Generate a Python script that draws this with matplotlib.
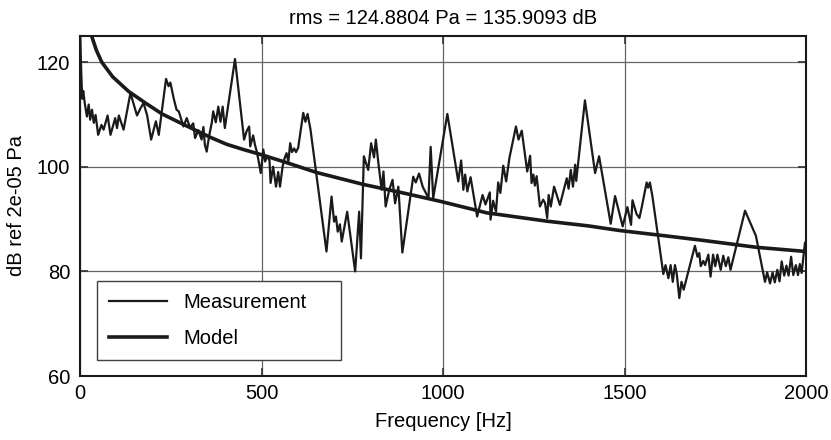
import matplotlib
matplotlib.use('Agg')
import matplotlib.pyplot as plt

plt.rcParams['font.family'] = ['Liberation Sans', 'DejaVu Sans']

freq_meas = [0, 3, 6, 9, 13, 19, 24, 28, 33, 38, 43, 50, 59, 65, 76, 84, 97, 102, 107, 120,
             139, 157, 166, 175, 185, 196, 209, 217, 237, 244, 249, 258, 266, 272, 279, 285,
             294, 303, 312, 317, 326, 335, 340, 344, 349, 356, 363, 367, 374, 381, 387, 393,
             399, 427, 452, 459, 466, 469, 477, 482, 487, 491, 498, 505, 510, 516, 522, 525,
             532, 540, 546, 551, 558, 563, 569, 574, 579, 584, 590, 595, 601, 615, 621, 627,
             635, 679, 693, 700, 705, 710, 716, 721, 736, 758, 769, 774, 782, 794, 802, 810,
             815, 822, 831, 836, 842, 852, 861, 868, 877, 888, 918, 925, 934, 944, 960, 966,
             973, 1012, 1042, 1050, 1056, 1061, 1067, 1076, 1094, 1109, 1117, 1129, 1131, 1138,
             1146, 1152, 1158, 1166, 1174, 1183, 1201, 1208, 1217, 1232, 1240, 1244, 1249, 1253,
             1258, 1267, 1276, 1281, 1287, 1291, 1297, 1306, 1322, 1341, 1346, 1352, 1358, 1364,
             1367, 1391, 1419, 1430, 1462, 1474, 1495, 1508, 1518, 1522, 1533, 1541, 1547, 1561,
             1565, 1570, 1577, 1607, 1613, 1621, 1627, 1633, 1639, 1644, 1651, 1657, 1663, 1694,
             1701, 1706, 1710, 1717, 1722, 1731, 1737, 1744, 1750, 1756, 1765, 1772, 1779, 1786,
             1792, 1832, 1862, 1887, 1893, 1901, 1908, 1914, 1921, 1927, 1933, 1940, 1946, 1952,
             1959, 1965, 1972, 1978, 1983, 1988, 1997, 2000]
db_meas = [127, 119, 113, 114.5, 112.2, 109.6, 111.9, 109, 110.9, 108.4, 109.9, 106.1, 108, 107.1,
           109.8, 106.1, 109.3, 107.4, 109.8, 107.1, 114.1, 109.8, 111.1, 112.2, 109.8, 105.2,
           108.7, 106.1, 116.8, 115.4, 116.1, 113.1, 110.9, 110.6, 109, 107.7, 109.3, 107.5,
           108.3, 105.5, 107, 105.2, 107.6, 104.2, 102.9, 106, 108.4, 110.6, 108.5, 111.5, 108.6,
           111.5, 107.4, 120.6, 105.2, 106.8, 107.7, 103.9, 106, 104.2, 102.9, 101.5, 98.8, 103.3,
           101, 102.1, 101.2, 96.9, 100, 96.2, 99, 96.2, 100, 101.5, 102.6, 101, 104.5, 102.8,
           103.5, 102.8, 103.6, 110.3, 108.6, 110.1, 107.1, 83.8, 94.3, 89.5, 90.5, 87.6, 89, 85.7,
           91.4, 80, 91.4, 82.5, 102, 99.4, 104.5, 101.8, 105.2, 100.7, 95.6, 99.1, 92.4, 95.6,
           97.5, 93, 96.2, 83.6, 98.1, 97, 98.7, 96.2, 94, 103.8, 94, 110.1, 97.2, 101.2, 95.6,
           98.5, 95.3, 98, 90.5, 94.6, 92.8, 95.1, 89.9, 93.5, 91.4, 97, 95, 100.2, 97.2, 101.7,
           107.7, 105.2, 106.9, 99.1, 102.1, 96.9, 98.5, 96.4, 98.2, 92.4, 93.7, 93.1, 90.2, 94.6,
           92.4, 96.2, 92.7, 97.8, 95.8, 99.4, 96.2, 100.4, 97.3, 112.7, 98.8, 102, 89.1, 94.4,
           88.6, 92.3, 88.9, 93.6, 91, 90.2, 92.1, 97, 96, 97, 94.3, 79.5, 81.2, 78.7, 81.2, 78,
           81.2, 79.5, 74.9, 78, 76.5, 84.9, 82.8, 83.5, 81, 82, 81.2, 83.2, 79, 83.2, 81, 83.2,
           80.3, 83, 81, 82.7, 80.3, 91.6, 86.8, 78, 79.8, 77.7, 79.8, 77.9, 80.3, 78.1, 81.9,
           79.2, 81.1, 79.2, 82.8, 79.3, 81.2, 79.3, 81.4, 79.7, 85.4, 85.8]

# model curve
freq_model = [25, 32, 45, 60, 90, 134, 180, 226, 276, 312, 360, 404, 450, 495, 560, 652, 782,
              890, 992, 1120, 1286, 1400, 1488, 1600, 1708, 1864, 2000]
db_model = [128, 125, 122.3, 120, 117.2, 114.4, 112.2, 110.1, 108.4, 107.2, 105.6, 104.3,
            103.3, 102.4, 101, 98.9, 96.6, 95, 93.4, 91.2, 89.6, 88.7, 87.8, 86.9, 86, 84.6, 83.8]

xticks = [0, 500, 1000, 1500, 2000]
yticks = [60, 80, 100, 120]

fig = plt.figure(figsize=(8.31, 4.4), dpi=100)
fig.subplots_adjust(left=80/831, right=806/831, top=1-36/440, bottom=1-376/440)
ax = fig.add_subplot(111)

ax.plot(freq_meas, db_meas, color='#1a1a1a', lw=1.6, label='Measurement')
ax.plot(freq_model, db_model, color='#1a1a1a', lw=2.6, label='Model')

ax.set_xlim(0, 2000)
ax.set_ylim(60, 125)
ax.set_xticks(xticks)
ax.set_yticks(yticks)
ax.grid(True, color='0.4', lw=0.9)
ax.set_axisbelow(True)
ax.tick_params(direction='in', top=True, right=True, length=6, width=1.2,
               labelsize=14.5, color='0.2')
ax.tick_params(axis='x', pad=6)
ax.tick_params(axis='y', pad=7)
for s in ax.spines.values():
    s.set_linewidth(1.5)
    s.set_color('#1a1a1a')

ax.set_xlabel('Frequency [Hz]', fontsize=14.5, labelpad=6)
ax.set_ylabel('dB ref 2e-05 Pa', fontsize=14.5, labelpad=8)
ax.set_title('rms = 124.8804 Pa = 135.9093 dB', fontsize=14.5, pad=9)

leg = ax.legend(loc='lower left', bbox_to_anchor=(0.023, 0.047, 0.337, 0.22), mode='expand',
                borderaxespad=0, fancybox=False, fontsize=14.5, handlelength=2.9,
                handletextpad=0.8, labelspacing=0.85, borderpad=0.6)
leg.get_frame().set_edgecolor('0.25')
leg.get_frame().set_linewidth(1.0)
leg.get_frame().set_alpha(1)

plt.savefig('out.png', dpi=100)
